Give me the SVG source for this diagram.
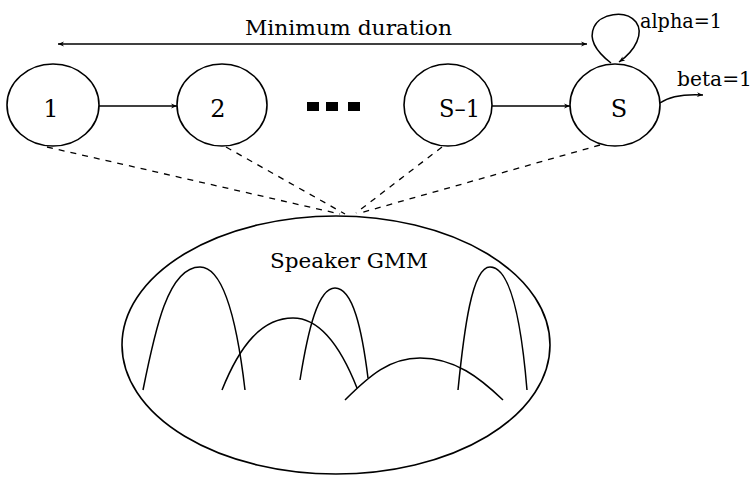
<svg xmlns="http://www.w3.org/2000/svg" width="754" height="477" viewBox="0 0 754 477">
<defs>
<marker id="ah" viewBox="0 0 10 10" refX="10" refY="5" markerWidth="9" markerHeight="6" markerUnits="userSpaceOnUse" orient="auto">
<path d="M0,1 L10,5 L0,9 L3,5 Z" fill="#000"/>
</marker>
<marker id="ahs" viewBox="0 0 10 10" refX="10" refY="5" markerWidth="9" markerHeight="6" markerUnits="userSpaceOnUse" orient="auto-start-reverse">
<path d="M0,1 L10,5 L0,9 L3,5 Z" fill="#000"/>
</marker>
</defs>
<style>
.n{fill:none;stroke:#000;stroke-width:1.6}
.e{fill:none;stroke:#000;stroke-width:1.5}
.d{fill:none;stroke:#000;stroke-width:1.3;stroke-dasharray:6 6}
.g{fill:none;stroke:#000;stroke-width:1.5}
</style>
<rect width="754" height="477" fill="#fff"/>
<g id="connectors">
<line class="e" x1="58" y1="44" x2="587" y2="44" marker-start="url(#ahs)" marker-end="url(#ah)"/>
<line class="e" x1="99" y1="106" x2="177" y2="106" marker-end="url(#ah)"/>
<line class="e" x1="492" y1="106" x2="570" y2="106" marker-end="url(#ah)"/>
<path class="e" d="M611,63 C598,53 588,40 594,27 C600,14 625,9 636,22 C644,33 636,50 619,62" marker-end="url(#ah)"/>
<path class="e" d="M660,103 C670,96 684,94 703,95" marker-end="url(#ah)"/>
<line class="d" x1="47" y1="147" x2="340" y2="214"/>
<line class="d" x1="226" y1="147" x2="345" y2="214"/>
<line class="d" x1="442" y1="147" x2="356" y2="213"/>
<line class="d" x1="600" y1="145" x2="360" y2="213"/>
</g>
<g font-family="DejaVu Serif, serif" fill="#000">
<text font-size="21" x="245" y="35" textLength="207" lengthAdjust="spacingAndGlyphs">Minimum duration</text>
<text font-size="21" x="640" y="28" textLength="82" lengthAdjust="spacingAndGlyphs">alpha=1</text>
<text font-size="21" x="677" y="86" textLength="75" lengthAdjust="spacingAndGlyphs">beta=1</text>
<g id="node-1">
<ellipse class="n" cx="53" cy="105" rx="46" ry="41"/>
<text font-size="24" text-anchor="middle" x="51" y="117">1</text>
</g>
<g id="node-2">
<ellipse class="n" cx="222" cy="105" rx="45" ry="41"/>
<text font-size="24" text-anchor="middle" x="218" y="117">2</text>
</g>
<g id="node-dots">
<rect x="307" y="102" width="12" height="9" fill="#000"/>
<rect x="326" y="102" width="12" height="9" fill="#000"/>
<rect x="348" y="102" width="12" height="9" fill="#000"/>
</g>
<g id="node-s1">
<ellipse class="n" cx="448" cy="105" rx="44" ry="41"/>
<text font-size="24" x="439" y="117" textLength="41" lengthAdjust="spacingAndGlyphs">S–1</text>
</g>
<g id="node-s">
<ellipse class="n" cx="615" cy="105" rx="45" ry="41"/>
<text font-size="24" text-anchor="middle" x="619" y="117">S</text>
</g>
<g id="node-gmm">
<ellipse class="n" cx="336" cy="345" rx="214" ry="129"/>
<text font-size="21" x="270" y="268" textLength="158" lengthAdjust="spacingAndGlyphs">Speaker GMM</text>
<path class="g" d="M143,390 C155,330 168,267 200,267 C225,267 238,330 245,390"/>
<path class="g" d="M222,390 C240,345 262,318 293,318 C322,318 342,350 357,388"/>
<path class="g" d="M300,380 C308,330 318,288 335,288 C353,288 362,330 368,378"/>
<path class="g" d="M345,400 C370,375 390,358 420,358 C455,358 480,378 503,400"/>
<path class="g" d="M458,390 C464,330 472,267 490,267 C512,267 522,330 527,390"/>
</g>
</g>
</svg>
